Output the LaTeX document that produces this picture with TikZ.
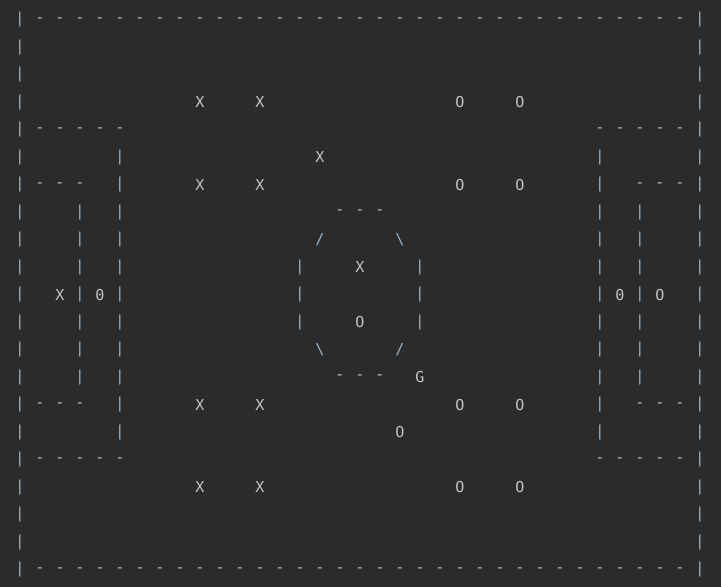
\documentclass[tikz,border=0pt]{standalone}
\usepackage{fontspec}
\setmonofont{DejaVu Sans Mono}
\definecolor{FieldBg}{HTML}{2B2B2B}
\definecolor{LineBlue}{HTML}{93B6D0}
\definecolor{MarkGray}{HTML}{C4C4C4}

\begin{document}
\begin{tikzpicture}[
    x=0.5cm, y=-0.6875cm,
    font=\ttfamily\fontsize{10.7}{12}\selectfont,
    ch/.style={inner sep=0pt, text=MarkGray},
    bar/.style={ch, text=LineBlue},
    dsh/.style={ch, text=MarkGray!90!LineBlue},
]
\fill[FieldBg] (-1,-0.72) rectangle (35.05,20.625);

% ================= borde exterior =================
\foreach \c in {1,...,33} {
    \node[dsh] (top-\c) at (\c,0) {-};
    \node[dsh] (bot-\c) at (\c,20) {-};
}
\foreach \r in {0,...,20} {
    \node[bar] (lft-\r) at (0,\r) {|};
    \node[bar] (rgt-\r) at (34,\r) {|};
}

% ================= areas grandes =================
\foreach \c in {1,...,5} {
    \node[dsh] (pal-t\c) at (\c,4) {-};
    \node[dsh] (pal-b\c) at (\c,16) {-};
    \node[dsh] (par-t\c) at (\c+28,4) {-};
    \node[dsh] (par-b\c) at (\c+28,16) {-};
}
\foreach \r in {5,...,15} {
    \node[bar] (pal-\r) at (5,\r) {|};
    \node[bar] (par-\r) at (29,\r) {|};
}

% ================= areas chicas =================
\foreach \c in {1,2,3} {
    \node[dsh] (gal-t\c) at (\c,6) {-};
    \node[dsh] (gal-b\c) at (\c,14) {-};
    \node[dsh] (gar-t\c) at (\c+30,6) {-};
    \node[dsh] (gar-b\c) at (\c+30,14) {-};
}
\foreach \r in {7,...,13} {
    \node[bar] (gal-\r) at (3,\r) {|};
    \node[bar] (gar-\r) at (31,\r) {|};
}

% ================= circulo central =================
\foreach \c in {16,17,18} {
    \node[dsh] (cc-t\c) at (\c,7) {-};
    \node[dsh] (cc-b\c) at (\c,13) {-};
}
\node[bar] (cc-nw) at (15,8) {/};
\node[bar] (cc-ne) at (19,8) {\textbackslash};
\node[bar] (cc-sw) at (15,12) {\textbackslash};
\node[bar] (cc-se) at (19,12) {/};
\foreach \r in {9,10,11} {
    \node[bar] (cc-l\r) at (14,\r) {|};
    \node[bar] (cc-r\r) at (20,\r) {|};
}

% ================= jugadores =================
\foreach \c/\r [count=\i] in {9/3,12/3,15/5,9/6,12/6,17/9,9/14,12/14,9/17,12/17,2/10}
    \node[ch] (x\i) at (\c,\r) {X};
\foreach \c/\r [count=\i] in {22/3,25/3,22/6,25/6,17/11,22/14,25/14,19/15,22/17,25/17,32/10}
    \node[ch] (o\i) at (\c,\r) {O};
\node[ch] (gk-l) at (4,10) {0};
\node[ch] (gk-r) at (30,10) {0};
\node[ch] (ball) at (20,13) {G};

\end{tikzpicture}
\end{document}
